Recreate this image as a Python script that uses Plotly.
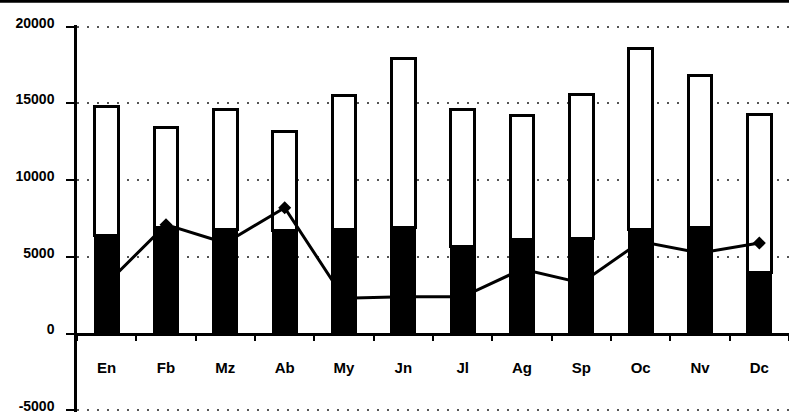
import plotly.graph_objects as go

months = ["En", "Fb", "Mz", "Ab", "My", "Jn", "Jl", "Ag", "Sp", "Oc", "Nv", "Dc"]
lower_values = [6400, 6900, 6800, 6750, 6800, 6900, 5700, 6100, 6200, 6800, 6900, 3950]
total_values = [14800, 13400, 14600, 13200, 15500, 17900, 14600, 14200, 15600, 18600, 16800, 14300]
line_values = [3250, 7100, 5900, 8200, 2300, 2400, 2400, 4200, 3300, 6000, 5250, 5900]
y_ticks = [-5000, 0, 5000, 10000, 15000, 20000]
y_tick_labels = ["-5000", "0", "5000", "10000", "15000", "20000"]

upper_values = [t - l for t, l in zip(total_values, lower_values)]

W, H = 789, 414
ymin, ymax = -5000, 20000
top_px, bottom_px = 27, 410          # pixel rows of 20000 and -5000
px_per_unit = (bottom_px - top_px) / (ymax - ymin)
pad_units = 110
pad_px = pad_units * px_per_unit
ml, mr = 77, 0
mt = top_px - pad_px
mb = H - bottom_px - pad_px
plot_w = W - ml - mr
plot_h = H - mt - mb

font_family = "Liberation Sans, Arial, sans-serif"

fig = go.Figure()
fig.add_trace(go.Bar(
    x=months, y=lower_values,
    marker=dict(color="black", line=dict(color="black", width=2)),
    showlegend=False, hoverinfo="skip",
))
fig.add_trace(go.Bar(
    x=months, y=upper_values,
    marker=dict(color="white", line=dict(color="black", width=3)),
    showlegend=False, hoverinfo="skip",
))
fig.add_trace(go.Scatter(
    x=months, y=line_values, mode="lines+markers",
    line=dict(color="black", width=3),
    marker=dict(symbol="diamond", size=10, color="black"),
    showlegend=False, hoverinfo="skip",
))

yr = [ymin - pad_units, ymax + pad_units]
zero_pos = (0 - yr[0]) / (yr[1] - yr[0])

fig.update_layout(
    width=W, height=H,
    margin=dict(l=ml, r=mr, t=mt, b=mb, pad=0),
    paper_bgcolor="white", plot_bgcolor="white",
    barmode="stack", bargap=0.6,
    font=dict(family=font_family, color="black"),
    xaxis=dict(
        type="category", range=[-0.5, len(months) - 0.5],
        anchor="free", position=zero_pos,
        showline=True, linecolor="black", linewidth=2.5,
        ticks="outside", tickson="boundaries", ticklen=6, tickwidth=2, tickcolor="black",
        ticklabelstandoff=20,
        tickfont=dict(size=15, weight="bold", family=font_family),
        showgrid=False, zeroline=False, automargin=False,
    ),
    yaxis=dict(
        range=yr,
        tickvals=y_ticks, ticktext=y_tick_labels,
        showline=True, linecolor="black", linewidth=2.5,
        ticks="outside", ticklen=8, tickwidth=2, tickcolor="black",
        ticklabelstandoff=9, ticklabelshift=-4, ticklabeloverflow="allow",
        tickfont=dict(size=14, weight="bold", family=font_family),
        showgrid=True, gridcolor="#555555", gridwidth=1.5, griddash="2px,8px",
        zeroline=False, automargin=False,
    ),
    shapes=[dict(
        type="line", xref="paper", yref="paper",
        x0=-ml / plot_w, x1=1.0,
        y0=1 + (mt - 1.5) / plot_h, y1=1 + (mt - 1.5) / plot_h,
        line=dict(color="black", width=3),
    )],
)

fig.write_html("out.html", config={"displayModeBar": False},
               post_script="document.body.style.margin='0';")
